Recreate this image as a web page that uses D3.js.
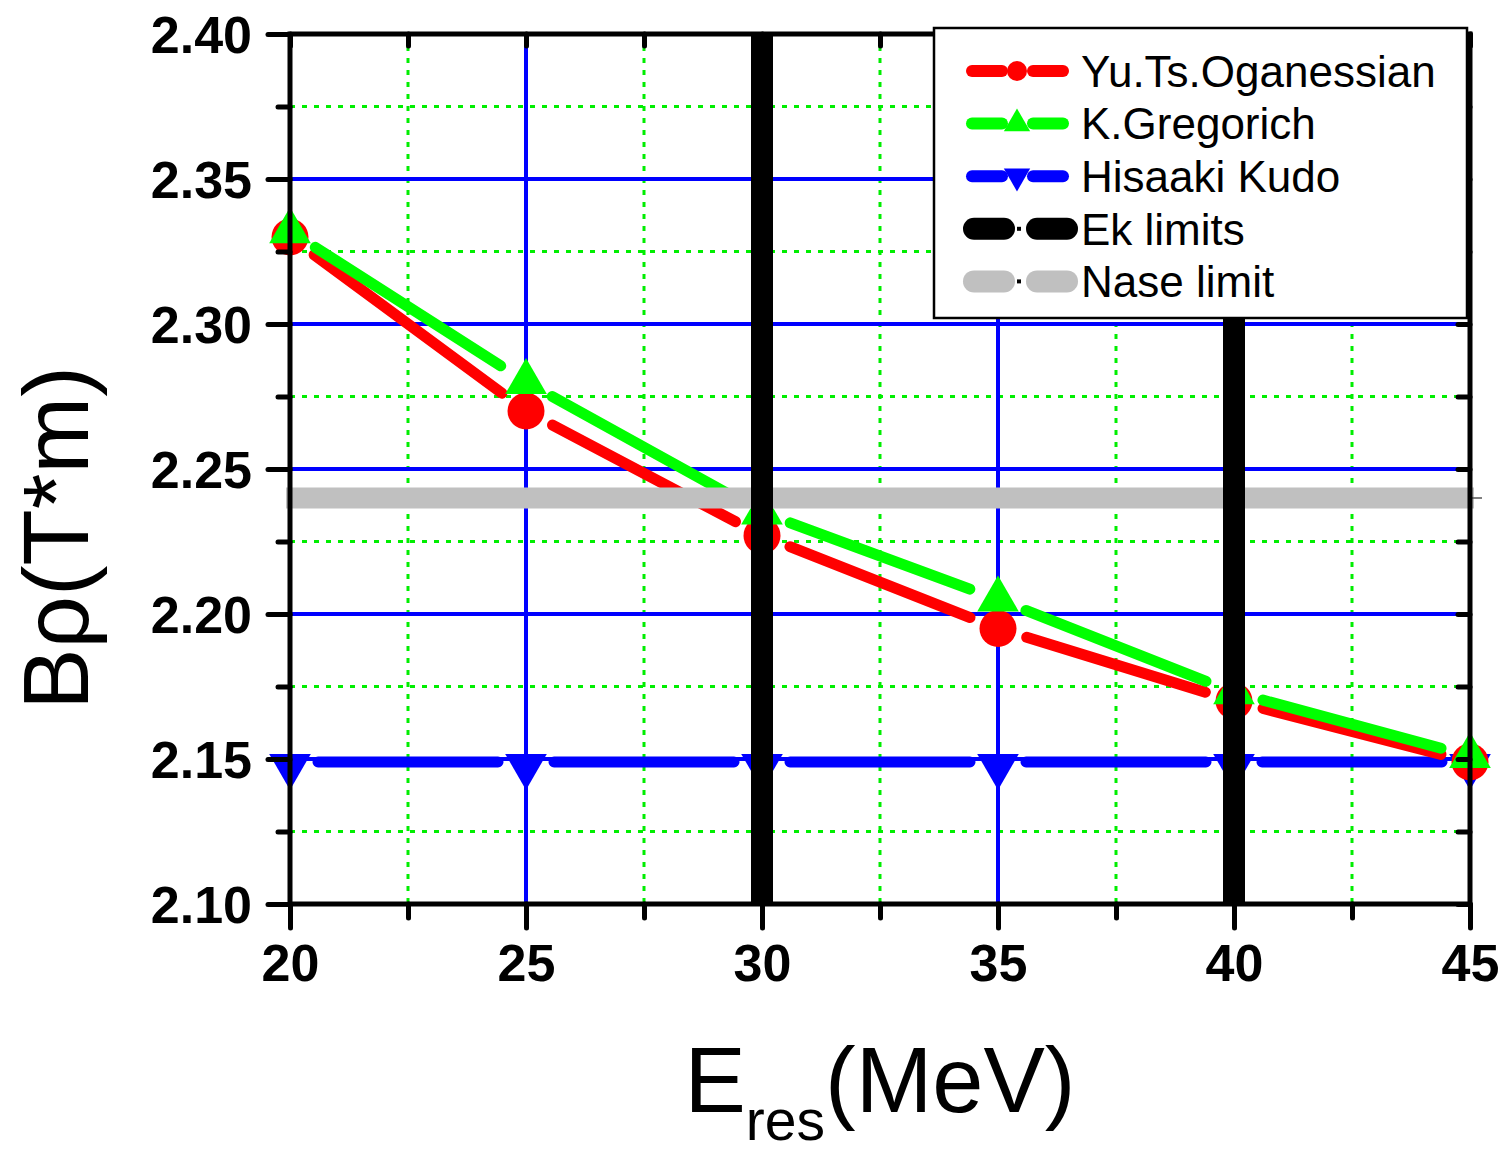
<!DOCTYPE html>
<html>
<head>
<meta charset="utf-8">
<script src="https://cdn.jsdelivr.net/npm/d3@7"></script>
<style>
  body { margin: 0; background: #fff; }
  svg { display: block; font-family: Arial, "Liberation Sans", sans-serif; }
</style>
</head>
<body>
<svg width="1506" height="1151"></svg>
<script>
// data
var energies = [20, 25, 30, 35, 40, 45];
var oganessian = [2.330, 2.270, 2.227, 2.195, 2.170, 2.149];
var gregorich = [2.332, 2.280, 2.235, 2.205, 2.173, 2.151];
var kudo = [2.149, 2.149, 2.149, 2.149, 2.149, 2.149];
var ekLimits = [30, 40];
var naseLimit = 2.24;
var xTicks = [20, 25, 30, 35, 40, 45];
var yTicks = [2.10, 2.15, 2.20, 2.25, 2.30, 2.35, 2.40];

var svg = d3.select("svg");
var pLeft = 290, pRight = 1470, pTop = 34, pBottom = 904;

var x = d3.scaleLinear().domain([20, 45]).range([pLeft, pRight]);
var y = d3.scaleLinear().domain([2.10, 2.40]).range([pBottom, pTop]);

var minorX = d3.range(22.5, 45, 5);
var minorY = d3.range(2.125, 2.40, 0.05);

// minor grid, green dotted
var grid = svg.append("g");
grid.selectAll(".mgx").data(minorX).enter().append("line")
  .attr("x1", d => x(d)).attr("x2", d => x(d)).attr("y1", pTop).attr("y2", pBottom)
  .attr("stroke", "#00ee00").attr("stroke-width", 3).attr("stroke-dasharray", "5,7");
grid.selectAll(".mgy").data(minorY).enter().append("line")
  .attr("y1", d => y(d)).attr("y2", d => y(d)).attr("x1", pLeft).attr("x2", pRight)
  .attr("stroke", "#00ee00").attr("stroke-width", 3).attr("stroke-dasharray", "5,7");
// major grid, blue
grid.selectAll(".gx").data(xTicks.slice(1, -1)).enter().append("line")
  .attr("x1", d => x(d)).attr("x2", d => x(d)).attr("y1", pTop).attr("y2", pBottom)
  .attr("stroke", "#0000ff").attr("stroke-width", 4);
grid.selectAll(".gy").data(yTicks.slice(1, -1)).enter().append("line")
  .attr("y1", d => y(d)).attr("y2", d => y(d)).attr("x1", pLeft).attr("x2", pRight)
  .attr("stroke", "#0000ff").attr("stroke-width", 4);

// line segments with gaps around the markers (origin style)
function gapLine(vals, color, gap) {
  var g = svg.append("g");
  for (var i = 0; i < vals.length - 1; i++) {
    var x1 = x(energies[i]), y1 = y(vals[i]), x2 = x(energies[i + 1]), y2 = y(vals[i + 1]);
    var dx = x2 - x1, dy = y2 - y1, len = Math.sqrt(dx * dx + dy * dy);
    var ux = dx / len, uy = dy / len;
    g.append("line")
      .attr("x1", x1 + ux * gap).attr("y1", y1 + uy * gap)
      .attr("x2", x2 - ux * gap).attr("y2", y2 - uy * gap)
      .attr("stroke", color).attr("stroke-width", 11).attr("stroke-linecap", "round");
  }
  return g;
}

var triUp = d3.symbol().type(d3.symbolTriangle).size(750);

// Kudo
gapLine(kudo, "#0000ff", 28);
svg.append("g").selectAll("path").data(kudo).enter().append("path")
  .attr("d", triUp)
  .attr("transform", (d, i) => "translate(" + x(energies[i]) + "," + (y(d) + 4) + ") rotate(180)")
  .attr("fill", "#0000ff");

// Oganessian
gapLine(oganessian, "#ff0000", 30);
svg.append("g").selectAll("circle").data(oganessian).enter().append("circle")
  .attr("cx", (d, i) => x(energies[i])).attr("cy", d => y(d)).attr("r", 18.5)
  .attr("fill", "#ff0000");

// Gregorich
gapLine(gregorich, "#00ff00", 30);
svg.append("g").selectAll("path").data(gregorich).enter().append("path")
  .attr("d", triUp)
  .attr("transform", (d, i) => "translate(" + x(energies[i]) + "," + y(d) + ")")
  .attr("fill", "#00ff00");

// Nase limit band
svg.append("line")
  .attr("x1", pLeft - 4).attr("x2", pRight + 4).attr("y1", y(naseLimit)).attr("y2", y(naseLimit))
  .attr("stroke", "#c0c0c0").attr("stroke-width", 21);
svg.append("line")
  .attr("x1", pRight).attr("x2", pRight + 12).attr("y1", y(naseLimit)).attr("y2", y(naseLimit))
  .attr("stroke", "#555").attr("stroke-width", 1.5);

// Ek limits
svg.append("g").selectAll("line").data(ekLimits).enter().append("line")
  .attr("x1", d => x(d)).attr("x2", d => x(d)).attr("y1", pTop).attr("y2", pBottom)
  .attr("stroke", "#000").attr("stroke-width", 22);

// axes
var axisStyle = function (g) {
  g.select(".domain").remove();
  g.selectAll(".tick line").attr("stroke", "#000").attr("stroke-width", 5).attr("stroke-linecap", "round");
  g.selectAll("text").attr("font-size", 52).attr("font-weight", "bold").attr("fill", "#000");
};

svg.append("g").attr("transform", "translate(0," + pBottom + ")")
  .call(d3.axisBottom(x).tickValues(xTicks).tickFormat(d3.format("d")).tickSize(24).tickPadding(16))
  .call(axisStyle);
svg.append("g").attr("transform", "translate(0," + pBottom + ")")
  .call(d3.axisBottom(x).tickValues(minorX).tickFormat("").tickSize(14)).call(axisStyle);
svg.append("g").attr("transform", "translate(" + pLeft + ",0)")
  .call(d3.axisLeft(y).tickValues(yTicks).tickFormat(d3.format(".2f")).tickSize(22).tickPadding(16))
  .call(axisStyle)
  .selectAll("text").attr("dy", "0.36em");
svg.append("g").attr("transform", "translate(" + pLeft + ",0)")
  .call(d3.axisLeft(y).tickValues(minorY).tickFormat("").tickSize(12)).call(axisStyle);
// right axis ticks pointing inward
svg.append("g").attr("transform", "translate(" + pRight + ",0)")
  .call(d3.axisRight(y).tickValues(yTicks).tickFormat("").tickSize(-12)).call(axisStyle);
svg.append("g").attr("transform", "translate(" + pRight + ",0)")
  .call(d3.axisRight(y).tickValues(minorY).tickFormat("").tickSize(-12)).call(axisStyle);
// top axis ticks pointing inward
svg.append("g").attr("transform", "translate(0," + pTop + ")")
  .call(d3.axisTop(x).tickValues(xTicks.concat(minorX)).tickFormat("").tickSize(-12)).call(axisStyle);

// frame
svg.append("rect")
  .attr("x", pLeft).attr("y", pTop).attr("width", pRight - pLeft).attr("height", pBottom - pTop)
  .attr("fill", "none").attr("stroke", "#000").attr("stroke-width", 5);

// axis titles
var xt = svg.append("text").attr("x", 880).attr("y", 1112).attr("text-anchor", "middle")
  .attr("font-size", 92).attr("fill", "#000");
xt.append("tspan").text("E");
xt.append("tspan").attr("font-size", 57).attr("dy", 28).text("res");
xt.append("tspan").attr("dy", -28).text("(MeV)");

svg.append("text")
  .attr("transform", "translate(88,538) rotate(-90)")
  .attr("text-anchor", "middle").attr("font-size", 92).attr("fill", "#000")
  .text("B\u03c1(T*m)");

// legend
var legendNames = ["Yu.Ts.Oganessian", "K.Gregorich", "Hisaaki Kudo", "Ek limits", "Nase limit"];
var legendColors = ["#ff0000", "#00ff00", "#0000ff", "#000000", "#c0c0c0"];
var legendMarks = ["circle", "up", "down", "dot", "dot"];

var lg = svg.append("g");
lg.append("rect").attr("x", 934).attr("y", 28).attr("width", 533).attr("height", 290)
  .attr("fill", "#fff").attr("stroke", "#000").attr("stroke-width", 2.5);

legendNames.forEach(function (name, i) {
  var cy = 71 + i * 52.6;
  var c = legendColors[i];
  var row = lg.append("g");
  if (legendMarks[i] === "dot") {
    row.append("line").attr("x1", 974).attr("x2", 1004).attr("y1", cy).attr("y2", cy)
      .attr("stroke", c).attr("stroke-width", 22).attr("stroke-linecap", "round");
    row.append("line").attr("x1", 1037).attr("x2", 1067).attr("y1", cy).attr("y2", cy)
      .attr("stroke", c).attr("stroke-width", 22).attr("stroke-linecap", "round");
    row.append("rect").attr("x", 1017).attr("y", cy - 2).attr("width", 4).attr("height", 4).attr("fill", "#000");
  } else {
    row.append("line").attr("x1", 972).attr("x2", 1002).attr("y1", cy).attr("y2", cy)
      .attr("stroke", c).attr("stroke-width", 12).attr("stroke-linecap", "round");
    row.append("line").attr("x1", 1033).attr("x2", 1063).attr("y1", cy).attr("y2", cy)
      .attr("stroke", c).attr("stroke-width", 12).attr("stroke-linecap", "round");
    if (legendMarks[i] === "circle") {
      row.append("circle").attr("cx", 1017).attr("cy", cy).attr("r", 10).attr("fill", c);
    } else {
      var s = d3.symbol().type(d3.symbolTriangle).size(300);
      row.append("path").attr("d", s)
        .attr("transform", "translate(1017," + cy + ")" + (legendMarks[i] === "down" ? " rotate(180)" : ""))
        .attr("fill", c);
    }
  }
  row.append("text").attr("x", 1081).attr("y", cy).attr("dy", "0.36em")
    .attr("font-size", 44).attr("fill", "#000").text(name);
});
</script>
</body>
</html>
